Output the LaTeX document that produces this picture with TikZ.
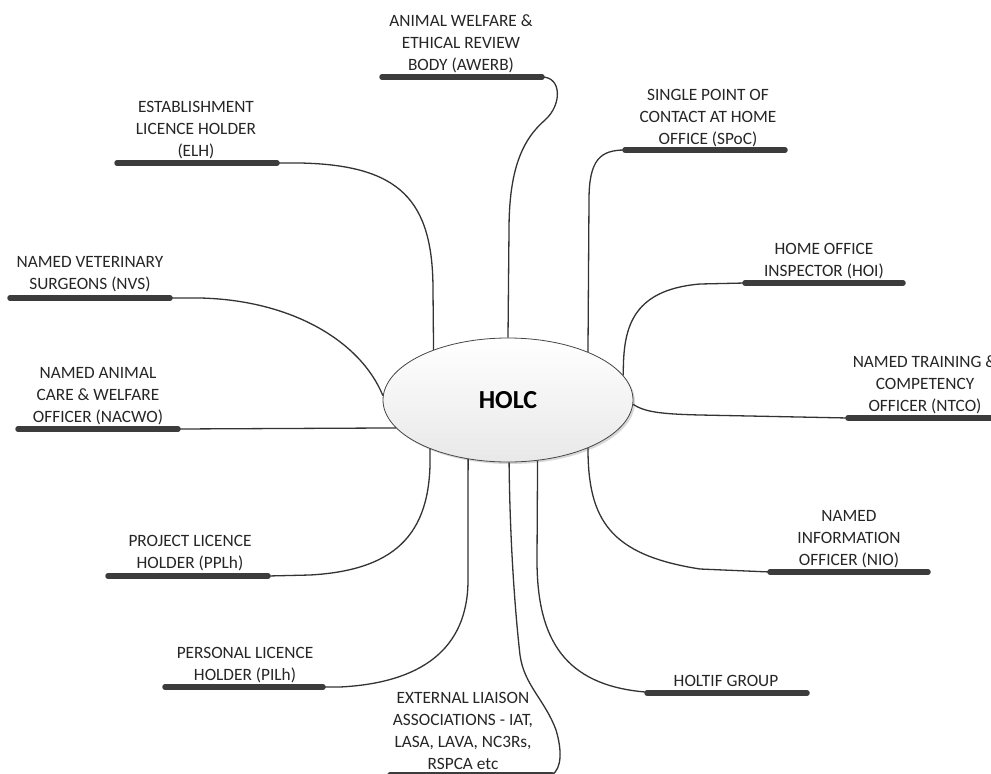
\documentclass[tikz,border=0pt]{standalone}
\usepackage{fontspec}
\setmainfont{Carlito}
\usetikzlibrary{shapes.geometric,shadows}
\definecolor{barc}{HTML}{3C3C3C}
\definecolor{linec}{HTML}{333333}
\definecolor{lbltext}{HTML}{262626}
\begin{document}
\begin{tikzpicture}[x=1pt,y=-1pt,
  lbl/.style={font=\fontsize{17.3}{22}\selectfont, text=lbltext, align=center, inner sep=0pt, anchor=south, text depth=0pt},
  bar/.style={line width=5.5pt, line cap=round, draw=barc},
  conn/.style={line width=1.3pt, draw=linec},
  hub/.style={ellipse, draw=gray!55!black, line width=0.8pt, top color=white, bottom color=gray!18,
    minimum width=250pt, minimum height=124pt, inner sep=0pt,
    font=\fontsize{26}{30}\selectfont\bfseries,
    drop shadow={shadow xshift=2pt, shadow yshift=-2pt, fill=gray!60, opacity=0.5}}]
\clip (0,0) rectangle (991,774);
\fill[white] (0,0) rectangle (991,774);

% bar end coordinates
\coordinate (awL) at (382,77);   \coordinate (awR) at (542,77);
\coordinate (elL) at (117,163);  \coordinate (elR) at (277,163);
\coordinate (spL) at (625,150);  \coordinate (spR) at (785,150);
\coordinate (hiL) at (745,283);  \coordinate (hiR) at (903,283);
\coordinate (nvL) at (10,298);   \coordinate (nvR) at (170,298);
\coordinate (naL) at (18,429);   \coordinate (naR) at (178,429);
\coordinate (ntL) at (848,418);  \coordinate (ntR) at (1010,418);
\coordinate (ppL) at (108,576);  \coordinate (ppR) at (268,576);
\coordinate (niL) at (770,572);  \coordinate (niR) at (928,572);
\coordinate (piL) at (165,687);  \coordinate (piR) at (323,687);
\coordinate (hoL) at (647,693);  \coordinate (hoR) at (807,693);
\coordinate (exL) at (390,775);  \coordinate (exR) at (552,775);

% labels
\node[lbl] (tAW) at (461,71) {ANIMAL WELFARE \&\\ETHICAL REVIEW\\BODY (AWERB)};
\node[lbl] (tEL) at (196,157) {ESTABLISHMENT\\LICENCE HOLDER\\(ELH)};
\node[lbl] (tSP) at (708,145) {SINGLE POINT OF\\CONTACT AT HOME\\OFFICE (SPoC)};
\node[lbl] (tHI) at (824,277) {HOME OFFICE\\INSPECTOR (HOI)};
\node[lbl] (tNV) at (90,290) {NAMED VETERINARY\\SURGEONS (NVS)};
\node[lbl] (tNA) at (98,423) {NAMED ANIMAL\\CARE \& WELFARE\\OFFICER (NACWO)};
\node[lbl] (tNT) at (925,412) {NAMED TRAINING \&\\COMPETENCY\\OFFICER (NTCO)};
\node[lbl] (tPP) at (190,569) {PROJECT LICENCE\\HOLDER (PPLh)};
\node[lbl] (tNI) at (849,566) {NAMED\\INFORMATION\\OFFICER (NIO)};
\node[lbl] (tPI) at (245,681) {PERSONAL LICENCE\\HOLDER (PILh)};
\node[lbl] (tHO) at (726,687) {HOLTIF GROUP};
\node[lbl] (tEX) at (463,770) {EXTERNAL LIAISON\\ASSOCIATIONS - IAT,\\LASA, LAVA, NC3Rs,\\RSPCA etc};

% hub
\node[hub] (holc) at (508,400) {HOLC};

% connectors
\draw[conn] (awR) .. controls (562,77) and (562,105) .. (545,120)
  .. controls (522,140) and (509,170) .. (509,230) -- (holc.north);
\draw[conn] (elR) -- (300,163) .. controls (400,165) and (433,200) .. (433,290) -- (holc.146);
\draw[conn] (nvR) -- (200,298) .. controls (290,300) and (360,340) .. (holc.178);
\draw[conn] (naR) -- (holc.194);
\draw[conn] (holc.212) .. controls (433,530) and (400,570) .. (310,575) -- (ppR);
\draw[conn] (holc.236) -- (468,580) .. controls (468,650) and (420,683) .. (340,687) -- (piR);
\draw[conn] (holc.271) .. controls (510,550) and (516,620) .. (520,655)
  .. controls (524,685) and (545,700) .. (556,730)
  .. controls (562,750) and (562,768) .. (exR);
\draw[conn] (holc.296) -- (537,560) .. controls (537,640) and (565,685) .. (645,692) -- (hoL);
\draw[conn] (holc.329) .. controls (588,520) and (610,555) .. (700,569) -- (niL);
\draw[conn] (holc.358) .. controls (645,412) and (660,414) .. (700,415) -- (ntL);
\draw[conn] (holc.12) .. controls (623,330) and (630,290) .. (700,284) -- (hiL);
\draw[conn] (holc.31) -- (589,200) .. controls (589,160) and (600,150) .. (spL);

% bars
\draw[bar] (awL) -- (awR);
\draw[bar] (elL) -- (elR);
\draw[bar] (spL) -- (spR);
\draw[bar] (hiL) -- (hiR);
\draw[bar] (nvL) -- (nvR);
\draw[bar] (naL) -- (naR);
\draw[bar] (ntL) -- (ntR);
\draw[bar] (ppL) -- (ppR);
\draw[bar] (niL) -- (niR);
\draw[bar] (piL) -- (piR);
\draw[bar] (hoL) -- (hoR);
\draw[bar] (exL) -- (exR);
\end{tikzpicture}
\end{document}
